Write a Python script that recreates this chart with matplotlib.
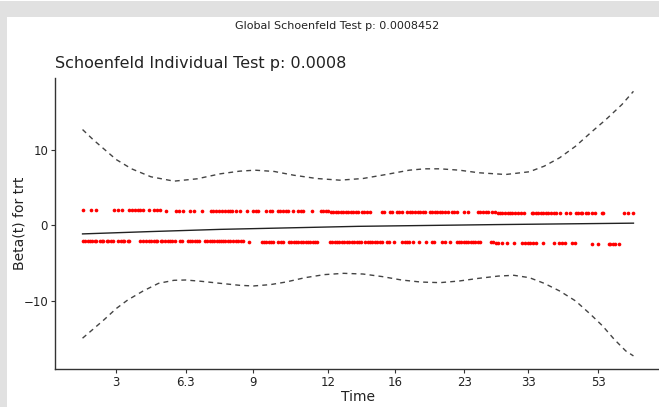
"""Schoenfeld residual plot for trt."""

import matplotlib

matplotlib.use("Agg")
import matplotlib.pyplot as plt
from matplotlib.patches import Rectangle

# x values are km-transformed time (0 = first event, 1 = last event)
tick_pos = [0.061, 0.187, 0.310, 0.446, 0.567, 0.693, 0.809, 0.936]
tick_labels = ["3", "6.3", "9", "12", "16", "23", "33", "53"]

fit_x = [0.0, 0.12, 0.25, 0.5, 0.75, 1.0]
fit_y = [-1.15, -0.85, -0.55, -0.15, 0.08, 0.27]

upper_x = [
    0.0, 0.019, 0.040, 0.061, 0.089, 0.124, 0.166, 0.208, 0.250, 0.285,
    0.313, 0.348, 0.383, 0.425, 0.467, 0.509, 0.551, 0.593, 0.621, 0.649,
    0.684, 0.719, 0.768, 0.811, 0.838, 0.866, 0.895, 0.922, 0.950, 0.979,
    1.0,
]
upper_y = [
    12.64, 11.32, 10.0, 8.68, 7.45, 6.40, 5.82, 6.13, 6.79, 7.14,
    7.27, 7.10, 6.61, 6.17, 5.95, 6.17, 6.70, 7.27, 7.45, 7.45,
    7.27, 6.93, 6.70, 7.06, 7.80, 8.91, 10.44, 12.20, 13.96, 15.94,
    17.69,
]
lower_x = [
    0.0, 0.019, 0.040, 0.061, 0.082, 0.110, 0.138, 0.166, 0.187, 0.215,
    0.250, 0.285, 0.310, 0.341, 0.369, 0.404, 0.439, 0.474, 0.509, 0.544,
    0.579, 0.614, 0.649, 0.684, 0.719, 0.755, 0.783, 0.811, 0.838, 0.866,
    0.895, 0.922, 0.944, 0.965, 0.986, 1.0,
]
lower_y = [
    -14.93, -13.75, -12.43, -11.02, -9.88, -8.69, -7.68, -7.28, -7.24, -7.41,
    -7.68, -7.94, -8.03, -7.85, -7.51, -6.93, -6.53, -6.36, -6.45, -6.79,
    -7.24, -7.51, -7.59, -7.37, -7.02, -6.72, -6.62, -6.93, -7.68, -8.69,
    -10.01, -11.77, -13.31, -15.07, -16.61, -17.27,
]

# residuals of trt = 2, grouped by the level they sit at
resid_hi_levels = [1.97, 1.92, 1.86, 1.80, 1.74, 1.66, 1.58]
resid_hi_x = [
    [0.0, 0.015, 0.024, 0.058, 0.064, 0.071, 0.085, 0.089, 0.095, 0.100,
     0.104, 0.109, 0.120, 0.129, 0.135, 0.140],
    [0.151, 0.169, 0.175, 0.182, 0.195, 0.202, 0.216, 0.233, 0.236, 0.242,
     0.247, 0.253, 0.258, 0.264, 0.267, 0.271, 0.278, 0.285, 0.298],
    [0.309, 0.315, 0.318, 0.333, 0.340, 0.344, 0.355, 0.358, 0.364, 0.369,
     0.373, 0.382, 0.391, 0.396, 0.400, 0.416, 0.433, 0.436, 0.442, 0.445],
    [0.451, 0.455, 0.460, 0.464, 0.469, 0.473, 0.478, 0.482, 0.487, 0.491,
     0.496, 0.500, 0.507, 0.511, 0.516, 0.522, 0.544, 0.547, 0.558, 0.562,
     0.571, 0.575, 0.580, 0.589, 0.595, 0.598],
    [0.604, 0.609, 0.613, 0.618, 0.622, 0.631, 0.635, 0.640, 0.644, 0.649,
     0.653, 0.658, 0.664, 0.671, 0.675, 0.680, 0.693, 0.700, 0.718, 0.722,
     0.727, 0.733, 0.736, 0.744, 0.749],
    [0.755, 0.758, 0.762, 0.767, 0.773, 0.776, 0.780, 0.785, 0.791, 0.795,
     0.802, 0.815, 0.818, 0.824, 0.827, 0.833, 0.836, 0.842, 0.845, 0.851,
     0.855, 0.860, 0.867, 0.878, 0.884, 0.895],
    [0.900, 0.904, 0.907, 0.913, 0.918, 0.924, 0.931, 0.942, 0.945, 0.982,
     0.991, 1.0],
]

# residuals of trt = 1
resid_lo_levels = [-2.08, -2.13, -2.18, -2.22, -2.28, -2.36, -2.48]
resid_lo_x = [
    [0.0, 0.005, 0.009, 0.013, 0.018, 0.022, 0.025, 0.031, 0.035, 0.038,
     0.044, 0.047, 0.051, 0.056, 0.064, 0.069, 0.073, 0.076, 0.082, 0.085,
     0.104, 0.109, 0.116, 0.120, 0.124, 0.129, 0.133, 0.136, 0.142, 0.145,
     0.149],
    [0.155, 0.158, 0.162, 0.167, 0.176, 0.180, 0.191, 0.195, 0.198, 0.204,
     0.207, 0.211, 0.222, 0.225, 0.231, 0.235, 0.238, 0.244, 0.247, 0.251,
     0.255, 0.258, 0.264, 0.267, 0.273, 0.278, 0.282, 0.287, 0.291],
    [0.302, 0.325, 0.329, 0.333, 0.338, 0.342, 0.345, 0.355, 0.360, 0.364,
     0.375, 0.378, 0.384, 0.387, 0.391, 0.396, 0.400, 0.405, 0.409, 0.413,
     0.418, 0.422, 0.425, 0.449],
    [0.453, 0.458, 0.462, 0.465, 0.471, 0.475, 0.480, 0.484, 0.489, 0.493,
     0.498, 0.502, 0.505, 0.513, 0.518, 0.522, 0.525, 0.531, 0.535, 0.540,
     0.544, 0.553, 0.556, 0.565, 0.580, 0.585, 0.589, 0.593],
    [0.600, 0.611, 0.624, 0.635, 0.638, 0.653, 0.658, 0.667, 0.680, 0.684,
     0.687, 0.693, 0.696, 0.700, 0.705, 0.709, 0.713, 0.718, 0.722, 0.742,
     0.745],
    [0.751, 0.755, 0.762, 0.771, 0.784, 0.798, 0.804, 0.809, 0.813, 0.818,
     0.824, 0.836, 0.856, 0.865, 0.871, 0.875, 0.889, 0.893],
    [0.925, 0.936, 0.955, 0.958, 0.962, 0.967, 0.973],
]


def draw_plot() -> None:
    """Draw the residual plot and save it to out.png."""
    fig = plt.figure(figsize=(6.59, 4.07), dpi=100, facecolor="#e1e1e1")
    fig.patches.append(
        Rectangle((7 / 659, 0), 1, 390 / 407, transform=fig.transFigure,
                  facecolor="white", edgecolor="none", zorder=-1)
    )
    fig.patches.append(
        Rectangle((0, 406 / 407), 1, 1 / 407, transform=fig.transFigure,
                  facecolor="white", edgecolor="none", zorder=-1)
    )

    ax = fig.add_axes([55 / 659, 38 / 407, 606 / 659, 291 / 407])
    ax.set_facecolor("none")

    for level, xs in zip(resid_hi_levels, resid_hi_x):
        ax.scatter(xs, [level] * len(xs), s=7, color="red", linewidths=0)
    for level, xs in zip(resid_lo_levels, resid_lo_x):
        ax.scatter(xs, [level] * len(xs), s=7, color="red", linewidths=0)

    ax.plot(fit_x, fit_y, color="#222222", linewidth=1.0)
    ax.plot(upper_x, upper_y, color="#444444", linewidth=1.0, dashes=(3.5, 3))
    ax.plot(lower_x, lower_y, color="#444444", linewidth=1.0, dashes=(3.5, 3))

    ax.set_xlim(-0.05, 1.05)
    ax.set_ylim(-19.0, 19.45)
    ax.set_xticks(tick_pos)
    ax.set_xticklabels(tick_labels)
    ax.set_yticks([-10, 0, 10])
    ax.spines["top"].set_visible(False)
    ax.spines["right"].set_visible(False)
    for side in ("left", "bottom"):
        ax.spines[side].set_color("#333333")
        ax.spines[side].set_linewidth(1.0)
    ax.tick_params(length=3, width=0.8, color="#333333", labelsize=8.5,
                   labelcolor="#222222", pad=2)

    ax.set_xlabel("Time", fontsize=10, color="#222222", labelpad=1)
    ax.set_ylabel("Beta(t) for trt", fontsize=10, color="#222222", labelpad=-2)
    ax.set_title("Schoenfeld Individual Test p: 0.0008", loc="left",
                 fontsize=11.5, color="#222222", pad=7)
    fig.text(337 / 659, 1 - 26 / 407, "Global Schoenfeld Test p: 0.0008452",
             ha="center", va="center", fontsize=8, color="#222222")

    fig.savefig("out.png", dpi=100, facecolor=fig.get_facecolor())
    plt.close(fig)


if __name__ == "__main__":
    draw_plot()
